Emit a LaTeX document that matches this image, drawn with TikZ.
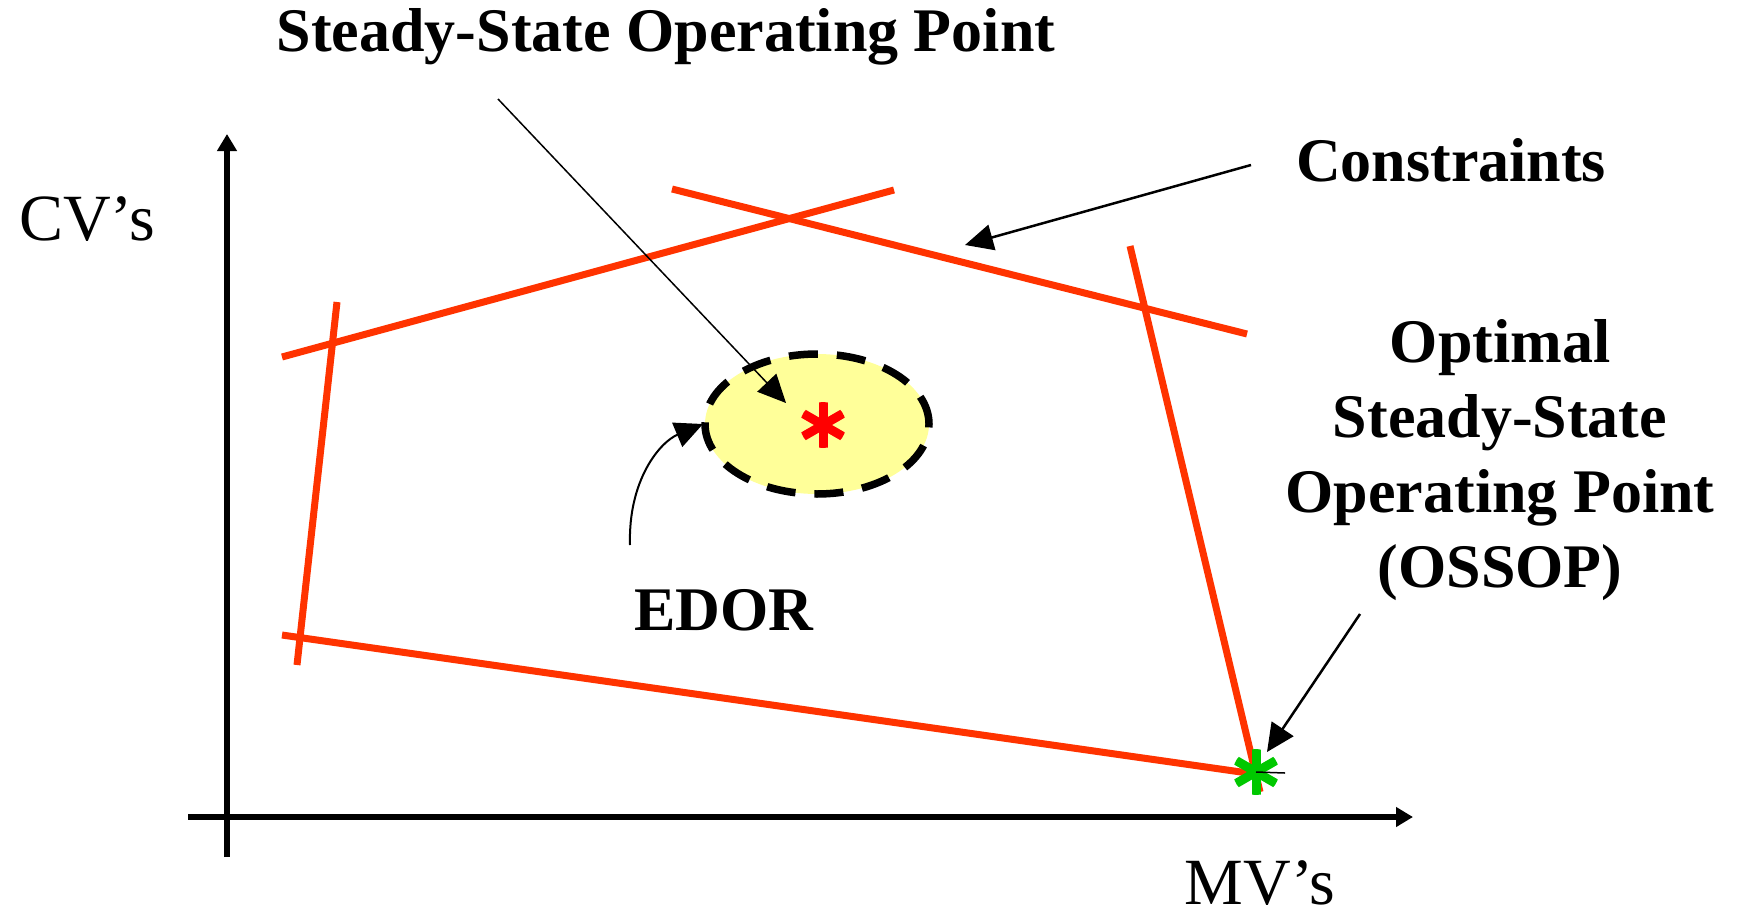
\documentclass[tikz,border=0pt]{standalone}
\usepackage{fontspec}
\setmainfont{Liberation Serif}
\usetikzlibrary{arrows.meta,shapes.geometric}
\definecolor{conred}{HTML}{FF3300}
\definecolor{regfill}{HTML}{FFFF99}
\definecolor{astgreen}{HTML}{00C800}
\definecolor{astred}{HTML}{FF0000}

\begin{document}
\begin{tikzpicture}[x=1pt,y=-1pt,
  axis/.style={line width=6pt, -{Triangle[length=17pt,width=19pt]}},
  constraint/.style={conred, line width=7pt},
  bigtext/.style={inner sep=0pt, anchor=base, font=\fontsize{62}{75}\selectfont\bfseries},
  axistext/.style={inner sep=0pt, anchor=base, font=\fontsize{66}{75}\selectfont},
  pointer/.style={line width=#1, -{Triangle[length=28pt,width=26pt]}},
  asterisk/.style={circle, inner sep=0pt, minimum size=46pt,
    path picture={\foreach \a in {90,30,-30}{
      \draw[#1, line width=9pt] (path picture bounding box.center)
        +(\a:24pt) -- +(\a+180:24pt);}}},
  region/.style={ellipse, inner sep=0pt, minimum width=224pt, minimum height=140pt,
    fill=regfill, draw=black, line width=7.5pt, dash pattern=on 29pt off 19pt}
]
\useasboundingbox (0,0) rectangle (1744,915);

% axes
\coordinate (xstart) at (188,817);
\coordinate (xend) at (1413,817);
\coordinate (ystart) at (227,857);
\coordinate (yend) at (227,134);
\draw[axis] (xstart) -- (xend);
\draw[axis] (ystart) -- (yend);
\node[axistext] (cv) at (87,240) {CV’s};
\node[axistext] (mv) at (1260,904) {MV’s};

% feasible region bounded by the constraint lines
\coordinate (c1a) at (282,357);  \coordinate (c1b) at (894,190);
\coordinate (c2a) at (672,189);  \coordinate (c2b) at (1247,334);
\coordinate (c3a) at (337,302);  \coordinate (c3b) at (297,665);
\coordinate (c4a) at (282,635);  \coordinate (c4b) at (1255,774);
\coordinate (c5a) at (1130,246); \coordinate (c5b) at (1260,792);
\draw[constraint] (c1a) -- (c1b);
\draw[constraint] (c2a) -- (c2b);
\draw[constraint] (c3a) -- (c3b);
\draw[constraint] (c4a) -- (c4b);
\draw[constraint] (c5a) -- (c5b);

% economically desirable operating region
\node[region] (edor) at (817,424) {};
\node[asterisk=astred] (ssop) at (823,425) {};

% optimal point at the corner
\coordinate (tickend) at (1285,773);
\node[asterisk=astgreen] (ossop) at (1256,772) {};
\draw[line width=1.5pt] (ossop.center) -- (tickend);

% labels
\node[bigtext] (sstitle) at (666,52) {Steady-State Operating Point};
\node[bigtext] (contitle) at (1451,181) {Constraints};
\node[bigtext] (edortitle) at (724,630) {EDOR};
\node[bigtext, align=center] (ossoptitle) at (1500,587)
  {Optimal\\Steady-State\\Operating Point\\(OSSOP)};

% pointers
\coordinate (sstail) at (498,99);   \coordinate (sshead) at (786,403);
\coordinate (contail) at (1251,165); \coordinate (conhead) at (965,245);
\coordinate (edortail) at (630,545); \coordinate (edorhead) at (703,424);
\coordinate (otail) at (1360,614);   \coordinate (ohead) at (1267,752);
\draw[pointer=1.5pt] (sstail) -- (sshead);
\draw[pointer=2.5pt] (contail) -- (conhead);
\draw[pointer=2pt] (edortail) .. controls (628,480) and (660,442) .. (edorhead);
\draw[pointer=2.5pt] (otail) -- (ohead);
\end{tikzpicture}
\end{document}
